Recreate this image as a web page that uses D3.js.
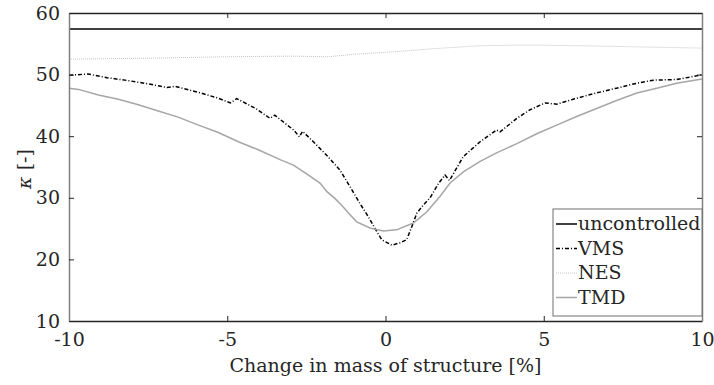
<!DOCTYPE html>
<html>
<head>
  <meta charset="utf-8">
  <script src="https://d3js.org/d3.v7.min.js"></script>
  <style>
    body { margin: 0; background: #fff; }
    svg text { font-family: "DejaVu Serif", "Liberation Serif", "Times New Roman", serif !important; fill: #262626; }
  </style>
</head>
<body>
  <svg width="714" height="385"></svg>
  <script>
    // Data (x = change in mass [%], y = kappa)
    const xTicks = [-10, -5, 0, 5, 10];
    const yTicks = [10, 20, 30, 40, 50, 60];

    const uncontrolled = [[-10, 57.4], [10, 57.4]];

    const vms = [[-10, 49.9], [-9.4, 50.1], [-8.8, 49.5], [-8.1, 49.0], [-7.5, 48.5], [-6.9, 47.9],
      [-6.65, 48.1], [-5.9, 47.1], [-5.3, 46.2], [-4.9, 45.4], [-4.7, 46.1], [-4.1, 44.5],
      [-3.65, 42.9], [-3.5, 43.4], [-3.2, 42.2], [-2.9, 41.0], [-2.72, 39.9], [-2.62, 40.8],
      [-2.28, 39.1], [-1.86, 36.9], [-1.44, 34.5], [-1.12, 31.8], [-0.81, 29.1], [-0.54, 26.9],
      [-0.33, 25.0], [-0.12, 23.2], [0.2, 22.3], [0.46, 22.7], [0.67, 23.2], [0.83, 25.3],
      [0.99, 27.5], [1.19, 28.8], [1.41, 30.0], [1.67, 32.3], [1.88, 33.7], [2.02, 32.8],
      [2.46, 36.7], [2.99, 39.1], [3.51, 41.0], [3.62, 40.7], [4.15, 42.9], [4.57, 44.3],
      [5.04, 45.4], [5.41, 45.2], [5.93, 46.0], [6.57, 46.9], [7.3, 47.8], [7.94, 48.6],
      [8.46, 49.1], [9.2, 49.2], [9.83, 49.8], [10, 50.0]];

    const nes = [[-10, 52.5], [-7, 52.7], [-5, 52.9], [-3, 53.0], [-1.8, 52.9], [-1, 53.3],
      [0, 53.6], [1.5, 54.2], [3, 54.7], [4.5, 54.8], [6, 54.7], [8, 54.5], [10, 54.3]];

    const tmd = [[-10, 47.8], [-9.7, 47.6], [-9.07, 46.7], [-8.44, 46.0], [-7.81, 45.1],
      [-7.18, 44.1], [-6.55, 43.1], [-5.91, 41.8], [-5.28, 40.6], [-4.65, 39.1], [-4.02, 37.8],
      [-3.33, 36.2], [-2.91, 35.3], [-2.49, 33.9], [-2.07, 32.4], [-1.85, 31.0], [-1.6, 29.9],
      [-1.35, 28.6], [-1.15, 27.4], [-0.91, 26.1], [-0.49, 25.1], [-0.07, 24.6], [0.35, 24.8],
      [0.88, 25.9], [1.3, 27.7], [1.72, 30.2], [2.04, 32.4], [2.46, 34.2], [2.99, 35.9],
      [3.51, 37.3], [4.15, 38.8], [4.78, 40.4], [5.41, 41.8], [6.04, 43.2], [6.67, 44.5],
      [7.3, 45.8], [7.94, 47.0], [8.57, 47.8], [9.2, 48.6], [10, 49.3]];

    const series = [
      { name: "uncontrolled", data: uncontrolled, color: "#000", width: 1.5, dash: null },
      { name: "VMS", data: vms, color: "#000", width: 1.5, dash: "4,2,1,2" },
      { name: "NES", data: nes, color: "#c4c4c4", width: 1, dash: "1,1" },
      { name: "TMD", data: tmd, color: "#a6a6a6", width: 1.5, dash: null }
    ];

    const margin = { top: 13, right: 12, bottom: 64, left: 69 };
    const width = 714 - margin.left - margin.right;
    const height = 385 - margin.top - margin.bottom;

    const svg = d3.select("svg")
      .append("g")
      .attr("transform", "translate(" + margin.left + "," + margin.top + ")");

    const x = d3.scaleLinear().domain([-10, 10]).range([0, width]);
    const y = d3.scaleLinear().domain([10, 60]).range([height, 0]);

    const line = d3.line().x(d => x(d[0])).y(d => y(d[1]));

    // Lines
    series.forEach(s => {
      svg.append("path")
        .datum(s.data)
        .attr("fill", "none")
        .attr("stroke", s.color)
        .attr("stroke-width", s.width)
        .attr("stroke-dasharray", s.dash)
        .attr("d", line);
    });

    // Axes (box with inward ticks)
    const bottomAxis = svg.append("g")
      .attr("transform", "translate(0," + height + ")")
      .call(d3.axisBottom(x).tickValues(xTicks).tickSizeInner(-5).tickSizeOuter(0).tickPadding(12).tickFormat(d => String(d)));
    bottomAxis.select(".domain").attr("stroke", "#262626").attr("stroke-width", 1.5);
    bottomAxis.selectAll("text").style("font-size", "19px");

    const topAxis = svg.append("g")
      .call(d3.axisTop(x).tickValues(xTicks).tickSizeInner(-5).tickSizeOuter(0).tickFormat(""));
    topAxis.select(".domain").attr("stroke", "#262626").attr("stroke-width", 1.5);

    const leftAxis = svg.append("g")
      .call(d3.axisLeft(y).tickValues(yTicks).tickSizeInner(-5).tickSizeOuter(0).tickPadding(9));
    leftAxis.select(".domain").attr("stroke", "#808080").attr("stroke-width", 1.5);
    leftAxis.selectAll("text").style("font-size", "19px");

    const rightAxis = svg.append("g")
      .attr("transform", "translate(" + width + ",0)")
      .call(d3.axisRight(y).tickValues(yTicks).tickSizeInner(-5).tickSizeOuter(0).tickFormat(""));
    rightAxis.select(".domain").attr("stroke", "#808080").attr("stroke-width", 1.5);

    svg.selectAll(".tick line").attr("stroke", "#262626");

    // Axis titles
    svg.append("text")
      .attr("x", width / 2)
      .attr("y", height + 51)
      .attr("text-anchor", "middle")
      .style("font-size", "19px")
      .text("Change in mass of structure [%]");

    const yTitle = svg.append("text")
      .attr("transform", "translate(-38," + (y(35) + 2) + ") rotate(-90)")
      .attr("text-anchor", "middle")
      .style("font-size", "19px");
    yTitle.append("tspan").style("font-style", "italic").text("κ");
    yTitle.append("tspan").text(" [-]");

    // Legend
    const legend = svg.append("g").attr("transform", "translate(" + (553 - margin.left) + "," + (209 - margin.top) + ")");
    legend.append("rect")
      .attr("width", 149).attr("height", 107)
      .attr("fill", "#fff").attr("stroke", "#6e6e6e").attr("stroke-width", 1);

    const items = legend.selectAll(".item")
      .data(series)
      .enter()
      .append("g")
      .attr("transform", (d, i) => "translate(0," + (15 + i * 24.5) + ")");
    items.append("line")
      .attr("x1", 3).attr("x2", 24)
      .attr("stroke", d => d.color)
      .attr("stroke-width", d => d.width)
      .attr("stroke-dasharray", d => d.dash);
    items.append("text")
      .attr("x", 25).attr("y", 6)
      .style("font-size", "19px")
      .text(d => d.name);
  </script>
</body>
</html>
